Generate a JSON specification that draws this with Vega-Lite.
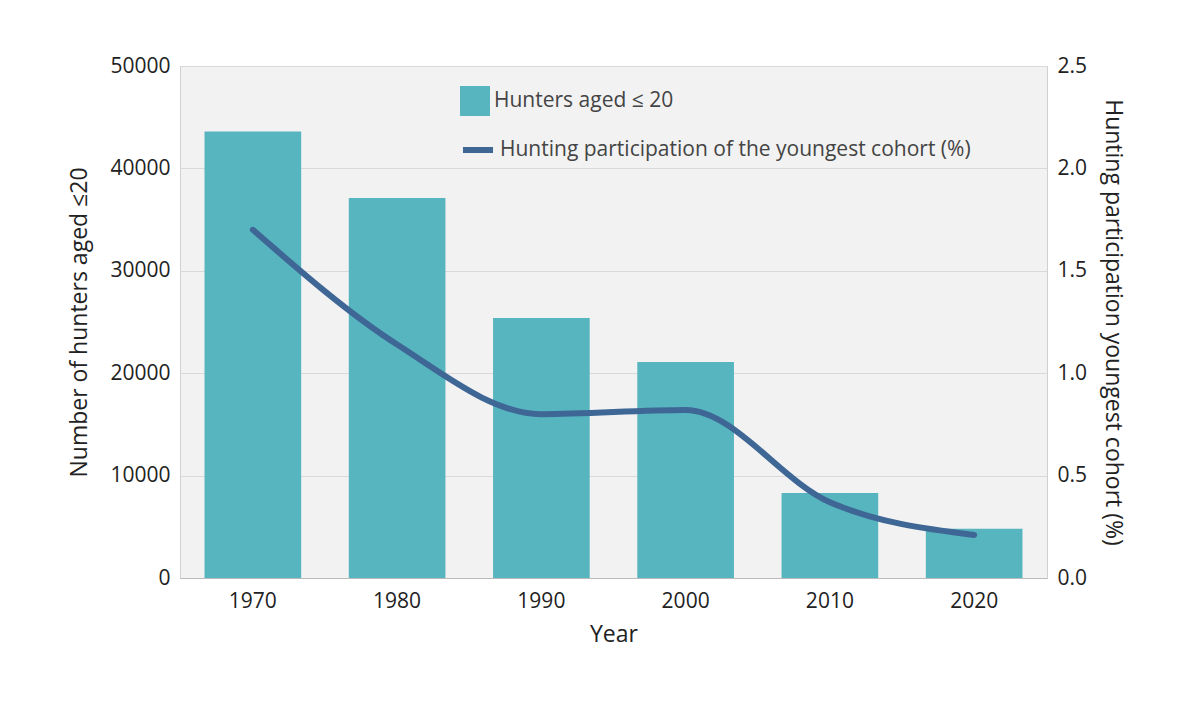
{
  "$schema": "https://vega.github.io/schema/vega-lite/v6.json",
  "width": 867,
  "height": 512,
  "autosize": {"type": "none"},
  "padding": {"left": 180, "top": 66, "right": 153, "bottom": 123},
  "background": "white",
  "config": {
    "font": "Open Sans",
    "view": {"fill": "#f2f2f2", "stroke": "#d0d0d0"},
    "axis": {"labelFontSize": 21, "titleFontSize": 23, "titleFontWeight": "normal", "labelColor": "#222", "titleColor": "#222", "domainColor": "#bbb", "tickColor": "#bbb", "gridColor": "#d9d9d9"},
    "legend": {"labelFontSize": 21, "labelColor": "#444", "labelLimit": 0}
  },
  "data": {
    "values": [
      {"year": "1970", "hunters": 43600, "pct": 1.70},
      {"year": "1980", "hunters": 37100, "pct": 1.14},
      {"year": "1990", "hunters": 25400, "pct": 0.80},
      {"year": "2000", "hunters": 21100, "pct": 0.82},
      {"year": "2010", "hunters": 8300, "pct": 0.37},
      {"year": "2020", "hunters": 4800, "pct": 0.21}
    ]
  },
  "encoding": {
    "x": {"field": "year", "type": "ordinal", "title": "Year",
      "scale": {"paddingInner": 0.33, "paddingOuter": 0.17},
      "axis": {"labelAngle": 0, "ticks": false, "labelPadding": 12, "titlePadding": 12}}
  },
  "layer": [
    {
      "mark": {"type": "bar"},
      "encoding": {
        "y": {"field": "hunters", "type": "quantitative", "title": "Number of hunters aged ≤20",
          "scale": {"domain": [0, 50000]},
          "axis": {"tickCount": 5, "format": "d", "ticks": false, "domain": false, "labelPadding": 10, "titlePadding": 18}},
        "fill": {"datum": "Hunters aged ≤ 20", "scale": {"range": ["#57b5bf"]},
          "legend": {"title": null, "orient": "none", "legendX": 280, "legendY": 20, "symbolType": "square", "symbolSize": 900, "symbolStrokeWidth": 0}}
      }
    },
    {
      "mark": {"type": "line", "interpolate": "monotone", "strokeWidth": 6, "strokeCap": "round"},
      "encoding": {
        "y": {"field": "pct", "type": "quantitative", "title": "Hunting participation youngest cohort (%)",
          "scale": {"domain": [0, 2.5]},
          "axis": {"orient": "right", "format": ".1f", "tickCount": 5, "ticks": false, "domain": false, "grid": false, "labelPadding": 10, "titlePadding": 14}},
        "stroke": {"datum": "Hunting participation of the youngest cohort (%)", "scale": {"range": ["#3f6796"]},
          "legend": {"title": null, "orient": "none", "legendX": 280, "legendY": 66, "symbolType": "stroke", "symbolSize": 900, "symbolStrokeWidth": 6}}
      }
    }
  ],
  "resolve": {"scale": {"y": "independent"}}
}
